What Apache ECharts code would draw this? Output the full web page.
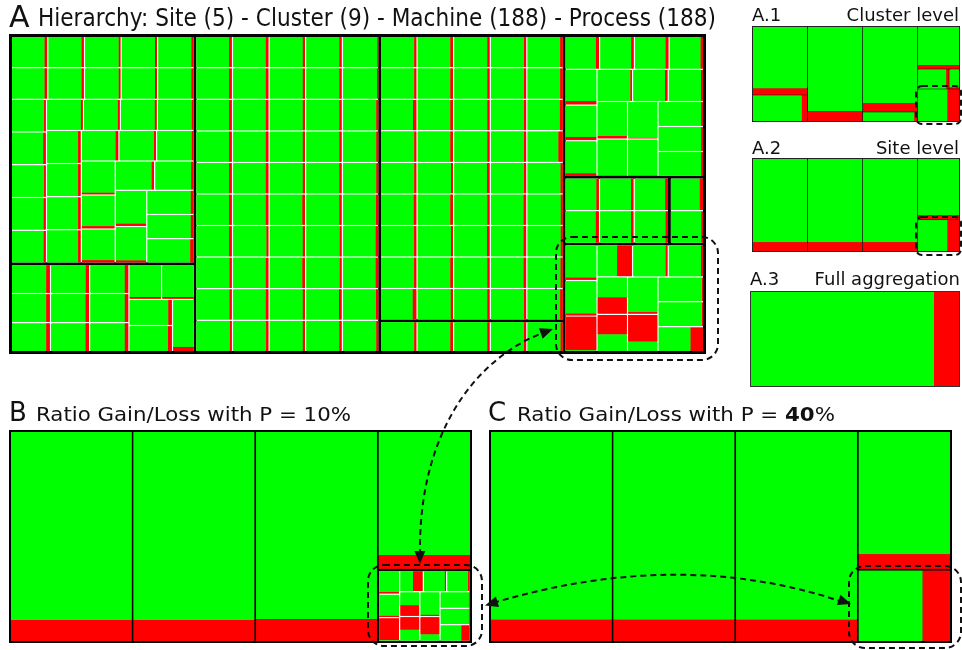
<!DOCTYPE html>
<html><head><meta charset="utf-8">
<script src="https://cdn.jsdelivr.net/npm/echarts@6/dist/echarts.min.js"></script>
<style>html,body{margin:0;padding:0;background:#fff}#c{width:962px;height:650px}</style>
</head><body><div id="c"></div>
<script>
// ---------------- data ----------------
const siteNames = ['Site 1', 'Site 2', 'Site 3', 'Site 4', 'Site 5'];
const siteClusters = [[0, 1], [2], [3, 4], [5, 6, 7], [8]];
const processPerMachine = 1;
// loss ratio (red part) of each machine, per cluster
const lossC1 = [0.07,0.06,0.045,0.055,0.06, 0.07,0.06,0.045,0.055,0.06, 0.045,0.07,0.045,0.06,0.06,
  0.05,0.05,0.05,0.05, 0.07,0.07,0.07,0.07, 0.07,0.05,0.05,0.05, 0.06,0.06,0.06,0.06, 0.06,0.05, 0.06,0.06,0.07];
const lossC2 = [0.09,0.09,0.09, 0.085,0.09,0.09, 0.09,0.09,0.09, 0.05,0.05, 0.08,0.09,0.08];
const lossC3 = [0.07,0.07,0.06,0.06,0.02, 0.07,0.07,0.06,0.06,0.03, 0.07,0.07,0.06,0.06,0.05, 0.07,0.07,0.06,0.06,0.05,
  0.07,0.07,0.06,0.06,0.05, 0.07,0.07,0.06,0.06,0.05, 0.07,0.07,0.06,0.06,0.05, 0.07,0.07,0.06,0.06,0.05,
  0.07,0.07,0.06,0.06,0.05, 0.07,0.07,0.06,0.06,0.05];
const lossC4 = [0.055,0.07,0.06,0.06,0.07, 0.055,0.07,0.06,0.06,0.07, 0.09,0.07,0.06,0.06,0.08, 0.055,0.07,0.06,0.06,0.12,
  0.055,0.07,0.06,0.06,0.10, 0.055,0.07,0.06,0.06,0.07, 0.055,0.07,0.06,0.06,0.07, 0.055,0.07,0.06,0.06,0.07,
  0.055,0.07,0.06,0.06,0.07];
const lossC5 = [0.055,0.07,0.06,0.06,0.06];
const lossC6 = [0.09,0.07,0.08,0.07, 0.09,0.09,0.07,0.04, 0.07,0.06,0.06,0.01, 0.01,0.01,0.04,0.04,0.04];
const lossC7 = [0.07,0.09,0.07,0.07,0.08,0.07];
const lossC8 = [0.10,0.05];
const lossC9 = [0.06,0.05,0.98, 0.43,0.05,0.06, 0.45,0.54, 0.04,0.74, 0.02,0.02,0.28];
const machineLoss = [lossC1, lossC2, lossC3, lossC4, lossC5, lossC6, lossC7, lossC8, lossC9];
// aggregated views
const clusterLossA1 = [0.088, 0.096, 0.105, 0.097, 0.05, 0.08, 0.07, 0.05, 0.28];
const siteLossA2 = [0.096, 0.096, 0.096, 0.07, 0.28];
const totalLossA3 = 0.12;
const siteLossB = [0.10, 0.10, 0.105, 0.10];   // site 5 kept at machine level
const siteLossC = [0.102, 0.102, 0.102, 0.106, 0.30];

// ---------------- builders ----------------
const GREEN = '#00ff00', RED = '#ff0000';
function pair(v, loss) {
  const g = { name: 'Gain', value: v * (1 - loss), itemStyle: { color: GREEN, borderColor: GREEN, borderWidth: 0, gapWidth: 0 } };
  const r = { name: 'Loss', value: v * loss, itemStyle: { color: RED, borderColor: RED, borderWidth: 0, gapWidth: 0 } };
  return loss > 0.5 ? [r, g] : [g, r];
}
function clusterSize(ci) { return machineLoss[ci].length * processPerMachine; }
function siteSize(si) { return siteClusters[si].reduce((s, c) => s + clusterSize(c), 0); }
function machineNodes(ci) {
  return machineLoss[ci].map((l, i) => ({
    name: 'Machine ' + (i + 1), value: processPerMachine,
    itemStyle: { borderWidth: 0, gapWidth: 0, borderColor: '#fff' },
    children: pair(processPerMachine, l)
  }));
}
function clusterDetail(ci) {
  return { name: 'Cluster ' + (ci + 1), itemStyle: { borderWidth: 0, borderColor: '#fff', gapWidth: 1.5 }, children: machineNodes(ci) };
}
const dataA = siteNames.map((n, si) => ({
  name: n, itemStyle: { borderWidth: 0, borderColor: '#000', gapWidth: 3 },
  children: siteClusters[si].map(clusterDetail)
}));
const dataA1 = siteNames.map((n, si) => ({
  name: n, itemStyle: { borderWidth: 0, borderColor: '#000', gapWidth: 1 },
  children: siteClusters[si].map(ci => ({ name: 'Cluster ' + (ci + 1), itemStyle: { borderWidth: 0, gapWidth: 0, borderColor: '#000' }, children: pair(clusterSize(ci), clusterLossA1[ci]) }))
}));
const dataA2 = siteNames.map((n, si) => ({
  name: n, itemStyle: { borderWidth: 0, borderColor: '#000', gapWidth: 0 }, children: pair(siteSize(si), siteLossA2[si])
}));
const totalSize = siteNames.reduce((s, n, si) => s + siteSize(si), 0);
const dataA3 = [{ name: 'All', itemStyle: { borderWidth: 0, gapWidth: 0 }, children: pair(totalSize, totalLossA3) }];
const dataB = siteNames.map((n, si) => si < siteLossB.length
  ? { name: n, itemStyle: { borderWidth: 0, borderColor: '#000', gapWidth: 0 }, children: pair(siteSize(si), siteLossB[si]) }
  : { name: n, itemStyle: { borderWidth: 0.5, borderColor: '#000', gapWidth: 1.5 }, children: siteClusters[si].map(clusterDetail) });
const dataC = siteNames.map((n, si) => ({
  name: n, itemStyle: { borderWidth: 0, borderColor: '#000', gapWidth: 0 }, children: pair(siteSize(si), siteLossC[si])
}));

function tm(box, rootStyle, data) {
  return Object.assign({
    type: 'treemap', roam: false, nodeClick: false, breadcrumb: { show: false }, sort: false,
    squareRatio: 1, visibleMin: 0, label: { show: false }, upperLabel: { show: false },
    silent: true, animation: false, levels: [{ itemStyle: rootStyle }], data: data
  }, box);
}

// ---------------- annotations ----------------
const FONT = '"DejaVu Sans", Verdana, sans-serif';
const cvs = document.createElement('canvas').getContext('2d');
function measure(t, size, weight) { cvs.font = (weight || 'normal') + ' ' + size + 'px ' + FONT; return cvs.measureText(t).width; }
const titleA = 'Hierarchy: Site (5) - Cluster (9) - Machine (188) - Process (188)';
const titleASize = 25;
const titleAScale = 678 / measure(titleA, titleASize);
const subSize = 20;
const titleB = 'Ratio Gain/Loss with P = 10%';
const titleBScale = 315 / measure(titleB, subSize);
const titleCScale = 318 / (measure('Ratio Gain/Loss with P = %', subSize) + measure('40', subSize, 'bold'));

function txt(t, x, y, size, align, extra) {
  return Object.assign({ type: 'text', z: 100, x: x, y: y,
    style: { text: t, x: 0, y: 0, fontSize: size, fontFamily: FONT, fill: '#111', align: align || 'left', verticalAlign: 'middle' } }, extra || {});
}
function dashRect(x, y, w, h, r) {
  return { type: 'rect', z: 100, shape: { x: x, y: y, width: w, height: h, r: r },
    style: { fill: null, stroke: '#111', lineWidth: 2, lineDash: [6, 4] } };
}
function head(tx, ty, dx, dy) {
  const L = Math.hypot(dx, dy), ux = dx / L, uy = dy / L, len = 13, hw = 5.5;
  const bx = tx - ux * len, by = ty - uy * len;
  return { type: 'polygon', z: 101, shape: { points: [[tx, ty], [bx - uy * hw, by + ux * hw], [bx + uy * hw, by - ux * hw]] }, style: { fill: '#111' } };
}
const graphics = [
  txt('A', 9, 19, 30, 'left'),
  txt(titleA, 38, 19, titleASize, 'left', { scaleX: titleAScale }),
  txt('A.1', 752, 16.5, 18, 'left'), txt('Cluster level', 959, 16.5, 18, 'right'),
  txt('A.2', 752, 149, 18, 'left'), txt('Site level', 959, 149, 18, 'right'),
  txt('A.3', 750, 280, 18, 'left'), txt('Full aggregation', 960, 280, 18, 'right'),
  txt('B', 9, 414.5, 26, 'left'),
  txt(titleB, 36, 416, subSize, 'left', { scaleX: titleBScale }),
  txt('C', 488, 414.5, 26, 'left'),
  { type: 'text', z: 100, x: 517, y: 416, scaleX: titleCScale,
    style: { text: '{a|Ratio Gain/Loss with P = }{b|40}{a|%}', x: 0, y: 0, align: 'left', verticalAlign: 'middle',
      rich: { a: { fontSize: subSize, fontFamily: FONT, fill: '#111' }, b: { fontSize: subSize, fontFamily: FONT, fontWeight: 'bold', fill: '#111' } } } },
  dashRect(556, 237, 162, 123, 16),
  dashRect(916, 86, 45, 38, 6),
  dashRect(916, 217, 45, 38, 6),
  dashRect(368, 565, 114, 81, 16),
  dashRect(849, 566, 112, 82, 16),
  { type: 'bezierCurve', z: 100, shape: { x1: 420, y1: 555, cpx1: 418, cpy1: 440, cpx2: 470, cpy2: 360, x2: 545, y2: 332 },
    style: { fill: null, stroke: '#111', lineWidth: 2, lineDash: [6, 4] } },
  head(420, 564, 2, 123), head(553, 329, 82, -30),
  { type: 'bezierCurve', z: 100, shape: { x1: 493, y1: 603, cpx1: 680, cpy1: 547, x2: 843, y2: 602 },
    style: { fill: null, stroke: '#111', lineWidth: 2, lineDash: [6, 4] } },
  head(485, 605.5, -195, 58), head(851, 604, 170, 57)
];

const chart = echarts.init(document.getElementById('c'), null, { renderer: 'canvas' });
chart.setOption({
  animation: false,
  series: [
    tm({ left: 9, top: 34, width: 697, height: 320 }, { borderWidth: 3, borderColor: '#000', gapWidth: 3 }, dataA),
    tm({ left: 752, top: 26, width: 208, height: 96 }, { borderWidth: 1, borderColor: '#222', gapWidth: 1 }, dataA1),
    tm({ left: 752, top: 158, width: 208, height: 94 }, { borderWidth: 1, borderColor: '#222', gapWidth: 1 }, dataA2),
    tm({ left: 750, top: 291, width: 210, height: 96 }, { borderWidth: 1, borderColor: '#333', gapWidth: 0 }, dataA3),
    tm({ left: 9, top: 430, width: 463, height: 213 }, { borderWidth: 2, borderColor: '#000', gapWidth: 2 }, dataB),
    tm({ left: 489, top: 430, width: 463, height: 213 }, { borderWidth: 2, borderColor: '#000', gapWidth: 2 }, dataC)
  ],
  graphic: { elements: graphics }
});
</script></body></html>
